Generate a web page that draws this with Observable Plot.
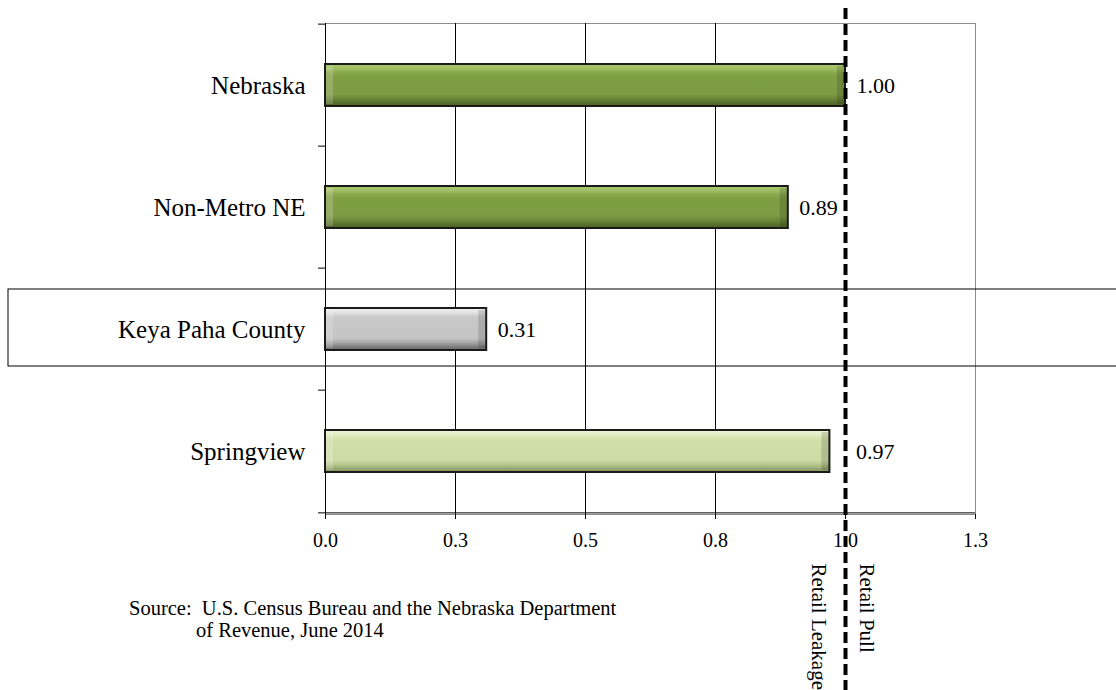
<!DOCTYPE html>
<html>
<head>
<meta charset="utf-8">
<script src="https://cdn.jsdelivr.net/npm/d3@7"></script>
<script src="https://cdn.jsdelivr.net/npm/@observablehq/plot@0.6"></script>
<style>
  html, body { margin: 0; padding: 0; background: #fff; }
  #wrap { position: relative; width: 1116px; height: 690px; }
  #source {
    position: absolute; left: 129px; top: 597px;
    font-family: "Liberation Serif", "Times New Roman", serif;
    font-size: 20.5px; line-height: 22px; color: #000;
    padding-left: 67px; text-indent: -67px; width: 540px;
  }
</style>
</head>
<body>
<div id="wrap">
  <div id="chart"></div>
  <div id="source">Source:&nbsp; U.S. Census Bureau and the Nebraska Department<br>of Revenue, June 2014</div>
</div>
<script>
// Pull factors by area
const categories = ["Nebraska", "Non-Metro NE", "Keya Paha County", "Springview"];
const pullFactors = [1.00, 0.89, 0.31, 0.97];
const areaKinds = ["state", "state", "county", "city"];
const highlighted = "Keya Paha County";

// x axis ticks and their printed labels
const tickValues = [0, 0.25, 0.5, 0.75, 1.0, 1.25];
const tickLabels = ["0.0", "0.3", "0.5", "0.8", "1.0", "1.3"];
const gridValues = [0.25, 0.5, 0.75];
const breakEven = 1.0;

const rows = categories.map((name, i) => ({name, value: pullFactors[i], kind: areaKinds[i]}));

const width = 1116, height = 690;
const marginTop = 23, marginBottom = 176, marginLeft = 325, marginRight = 141;
const step = (height - marginTop - marginBottom) / categories.length;

const fillFor = {state: "url(#g-state)", county: "url(#g-county)", city: "url(#g-city)"};

// bevelled bar shading
const gradients = {
  "g-state": [[0, "#a9c66e"], [0.1, "#a3c166"], [0.2, "#8aa94f"], [0.28, "#7f9f45"], [0.72, "#7c9b43"], [0.82, "#6b8739"], [0.92, "#57702d"], [1, "#4a5f25"]],
  "g-county": [[0, "#f0f0f0"], [0.1, "#e4e4e4"], [0.2, "#cdcdcd"], [0.28, "#c8c8c8"], [0.72, "#c5c5c5"], [0.82, "#a9a9a9"], [0.92, "#808080"], [1, "#666666"]],
  "g-city": [[0, "#eef5d8"], [0.1, "#e5efc6"], [0.2, "#d5e3ae"], [0.28, "#d1e0a9"], [0.72, "#cddca4"], [0.82, "#b7c78e"], [0.92, "#98a872"], [1, "#7f8e5c"]]
};

function defsMark() {
  const defs = d3.create("svg:defs");
  for (const [id, stops] of Object.entries(gradients)) {
    const g = defs.append("linearGradient").attr("id", id)
      .attr("x1", 0).attr("y1", 0).attr("x2", 0).attr("y2", 1);
    for (const [o, c] of stops) g.append("stop").attr("offset", o).attr("stop-color", c);
  }
  return defs.node();
}

const chart = Plot.plot({
  width, height, marginTop, marginBottom, marginLeft, marginRight,
  style: {fontFamily: "'Liberation Serif', 'Times New Roman', serif", fontSize: "20px", color: "#000", background: "#fff", overflow: "visible"},
  x: {domain: [0, 1.25]},
  y: {domain: categories, paddingInner: 0.655, paddingOuter: 0.3275},
  color: {type: "identity"},
  marks: [
    defsMark,
    Plot.frame({stroke: "#8c8c8c", strokeWidth: 1}),
    Plot.ruleX(gridValues, {stroke: "#000", strokeWidth: 1}),
    // left axis line and category boundary ticks
    Plot.ruleX([0], {stroke: "#000", strokeWidth: 1}),
    Plot.ruleY(categories, {x1: 0, x2: 0, insetLeft: -7, dy: -step / 2, stroke: "#000"}),
    // bottom axis line
    Plot.ruleY([categories[categories.length - 1]], {x1: 0, x2: 1.25, insetLeft: -7, dy: step / 2, stroke: "#000"}),
    Plot.axisX({ticks: tickValues, tickFormat: d => tickLabels[tickValues.indexOf(d)], tickSize: 5, tickPadding: 13, fontSize: 20, label: null}),
    Plot.axisY({tickSize: 0, tickPadding: 20, fontSize: 25, label: null}),
    // highlight box around the county row
    Plot.barX([highlighted], {y: d => d, x1: 0, x2: 1.25, insetLeft: -317, insetRight: -150, insetTop: -19, insetBottom: -16, fill: "none", stroke: "#000", strokeWidth: 1}),
    Plot.barX(rows, {y: "name", x1: 0, x2: "value", fill: d => fillFor[d.kind], stroke: "#1a1a1a", strokeWidth: 2}),
    // bevel edges at both ends of each bar
    Plot.barX(rows, {y: "name", x1: 0, x2: 0, insetRight: -8, insetLeft: 1, insetTop: 2, insetBottom: 2, fill: "#fff", fillOpacity: 0.18}),
    Plot.barX(rows, {y: "name", x1: "value", x2: "value", insetLeft: -8, insetRight: 1, insetTop: 2, insetBottom: 2, fill: "#000", fillOpacity: 0.14}),
    // value labels
    Plot.text(rows.filter(d => d.name !== "Springview"), {y: "name", x: "value", text: d => d.value.toFixed(2), textAnchor: "start", dx: 11, fontSize: 22}),
    Plot.text(rows.filter(d => d.name === "Springview"), {y: "name", x: "value", text: d => d.value.toFixed(2), textAnchor: "start", dx: 26, fontSize: 22}),
    // break-even reference line
    Plot.ruleX([breakEven], {stroke: "#000", strokeWidth: 4, strokeDasharray: "11,5", insetTop: -15, insetBottom: -176}),
    Plot.text(["Retail Leakage"], {x: () => breakEven, text: d => d, frameAnchor: "bottom", rotate: 90, textAnchor: "start", lineAnchor: "middle", dy: 49, dx: -27, fontSize: 21}),
    Plot.text(["Retail Pull"], {x: () => breakEven, text: d => d, frameAnchor: "bottom", rotate: 90, textAnchor: "start", lineAnchor: "middle", dy: 49, dx: 21, fontSize: 21})
  ]
});

document.getElementById("chart").appendChild(chart);
</script>
</body>
</html>
